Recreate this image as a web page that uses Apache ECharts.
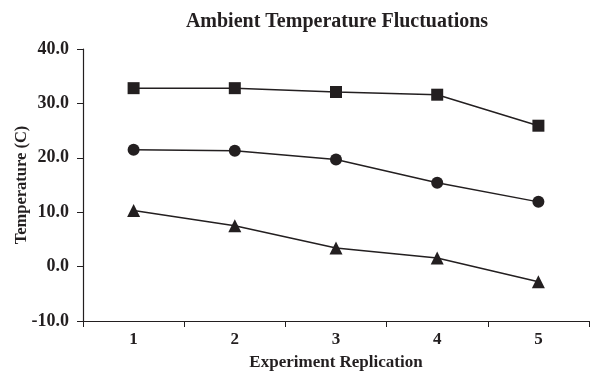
<!DOCTYPE html>
<html>
<head>
<meta charset="utf-8">
<script src="https://cdn.jsdelivr.net/npm/echarts@6/dist/echarts.min.js"></script>
<style>
  html, body { margin: 0; padding: 0; background: #fff; }
  #chart { width: 590px; height: 373px; }
</style>
</head>
<body>
<div id="chart"></div>
<script>
const categories = ['1', '2', '3', '4', '5']
const squareSeries = [32.8, 32.8, 32.1, 31.6, 25.9]
const circleSeries = [21.5, 21.3, 19.7, 15.4, 11.9]
const triangleSeries = [10.3, 7.5, 3.4, 1.6, -2.8]

const ink = '#231f20'
const font = '"Liberation Serif", "Times New Roman", serif'

const chart = echarts.init(document.getElementById('chart'))

function line(data, symbol, size) {
  return {
    type: 'line',
    data: data,
    symbol: symbol,
    symbolSize: size,
    lineStyle: { color: ink, width: 1.5 },
    itemStyle: { color: ink },
    animation: false
  }
}

chart.setOption({
  title: {
    text: 'Ambient Temperature Fluctuations',
    left: 332,
    top: 7,
    textAlign: 'center',
    textStyle: { fontFamily: font, fontWeight: 'bold', fontSize: 20, color: ink }
  },
  grid: { left: 83, right: 1, top: 49, bottom: 52, outerBoundsMode: 'none', containLabel: false },
  xAxis: {
    type: 'category',
    data: categories,
    boundaryGap: true,
    name: 'Experiment Replication',
    nameLocation: 'middle',
    nameGap: 33,
    nameTextStyle: { fontFamily: font, fontWeight: 'bold', fontSize: 17, color: ink },
    axisLine: { onZero: false, lineStyle: { color: ink, width: 1.2 } },
    axisTick: { show: true, inside: false, length: 6, lineStyle: { color: ink } },
    axisLabel: { fontFamily: font, fontWeight: 'bold', fontSize: 17, color: ink, margin: 10 },
    splitLine: { show: false }
  },
  yAxis: {
    type: 'value',
    min: -10,
    max: 40,
    interval: 10,
    name: 'Temperature (C)',
    nameLocation: 'middle',
    nameGap: 53,
    nameRotate: 90,
    nameMoveOverlap: false,
    nameTextStyle: { fontFamily: font, fontWeight: 'bold', fontSize: 16.5, color: ink },
    axisLine: { show: true, lineStyle: { color: ink, width: 1.2 } },
    axisTick: { show: true, length: 6, lineStyle: { color: ink } },
    axisLabel: {
      fontFamily: font, fontWeight: 'bold', fontSize: 18, color: ink, margin: 14,
      formatter: (v) => v.toFixed(1)
    },
    splitLine: { show: false }
  },
  series: [
    line(squareSeries, 'rect', 12),
    line(circleSeries, 'circle', 12),
    line(triangleSeries, 'triangle', 13)
  ]
})
</script>
</body>
</html>
